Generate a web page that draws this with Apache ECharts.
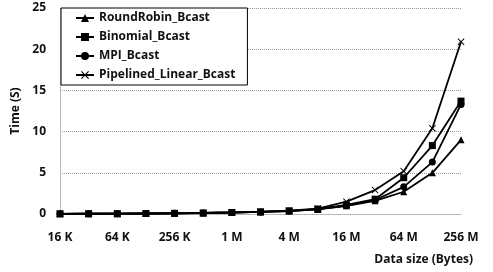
<!DOCTYPE html>
<html>
<head>
    <meta charset="utf-8">
    <title>bcast</title>
    <script src="https://cdn.jsdelivr.net/npm/echarts@6/dist/echarts.min.js"></script>
</head>
<body style="margin:0">
<div id="chart" style="width: 493px; height: 272px;"></div>
<script type="text/javascript">
var sizes = ['16 K', '32 K', '64 K', '128 K', '256 K', '512 K', '1 M', '2 M', '4 M', '8 M', '16 M', '32 M', '64 M', '128 M', '256 M'];
var roundRobin = [0.02, 0.03, 0.04, 0.06, 0.08, 0.12, 0.18, 0.25, 0.35, 0.55, 1.0, 1.6, 2.7, 5.0, 9.0];
var binomial = [0.02, 0.03, 0.04, 0.06, 0.08, 0.12, 0.18, 0.26, 0.38, 0.6, 1.1, 1.8, 4.4, 8.3, 13.7];
var mpi = [0.02, 0.03, 0.04, 0.06, 0.08, 0.12, 0.18, 0.25, 0.36, 0.58, 1.0, 1.7, 3.3, 6.3, 13.3];
var pipelined = [0.02, 0.03, 0.04, 0.06, 0.09, 0.13, 0.2, 0.28, 0.4, 0.65, 1.5, 2.9, 5.2, 10.4, 20.9];

var font = 'Open Sans';
var cross = 'path://M0,1L1,0L5,4L9,0L10,1L6,5L10,9L9,10L5,6L1,10L0,9L4,5Z';

function line(name, data, symbol, size) {
    return {
        name: name,
        type: 'line',
        data: data,
        symbol: symbol,
        symbolSize: size,
        color: '#000',
        lineStyle: { color: '#000', width: 1.8 },
        itemStyle: { color: '#000' }
    };
}

var myChart = echarts.init(document.getElementById('chart'));
var option = {
    animation: false,
    textStyle: { fontFamily: font },
    grid: { left: 60, right: 32, top: 8, bottom: 58 },
    legend: {
        orient: 'vertical',
        left: 61,
        top: 8,
        itemWidth: 18,
        itemHeight: 10,
        itemGap: 7,
        padding: [4, 12, 4, 14],
        borderColor: '#000',
        borderWidth: 1,
        backgroundColor: '#fff',
        textStyle: { fontFamily: font, fontWeight: 'bold', fontSize: 12, color: '#111' },
        data: ['RoundRobin_Bcast', 'Binomial_Bcast', 'MPI_Bcast', 'Pipelined_Linear_Bcast']
    },
    xAxis: {
        type: 'category',
        data: sizes,
        boundaryGap: false,
        axisLine: { lineStyle: { color: '#aaa', type: 'dotted' } },
        axisTick: { show: false },
        axisLabel: { interval: 1, margin: 18, color: '#111', fontWeight: 'bold', fontSize: 12 }
    },
    yAxis: {
        type: 'value',
        min: 0,
        max: 25,
        interval: 5,
        name: 'Time (S)',
        nameLocation: 'middle',
        nameGap: 37,
        nameTextStyle: { color: '#111', fontWeight: 'bold', fontSize: 12 },
        axisLine: { show: true, lineStyle: { color: '#aaa', type: 'dotted' } },
        axisTick: { show: false },
        axisLabel: { margin: 14, color: '#111', fontWeight: 'bold', fontSize: 12 },
        splitLine: { lineStyle: { color: '#999', type: 'dotted' } }
    },
    graphic: [{
        type: 'text',
        right: 20,
        top: 254,
        style: { text: 'Data size (Bytes)', fill: '#111', font: 'bold 12px "Open Sans"' }
    }],
    series: [
        line('RoundRobin_Bcast', roundRobin, 'triangle', 7),
        line('Binomial_Bcast', binomial, 'rect', 7),
        line('MPI_Bcast', mpi, 'circle', 7),
        line('Pipelined_Linear_Bcast', pipelined, cross, 7)
    ]
};
myChart.setOption(option);
</script>
</body>
</html>
